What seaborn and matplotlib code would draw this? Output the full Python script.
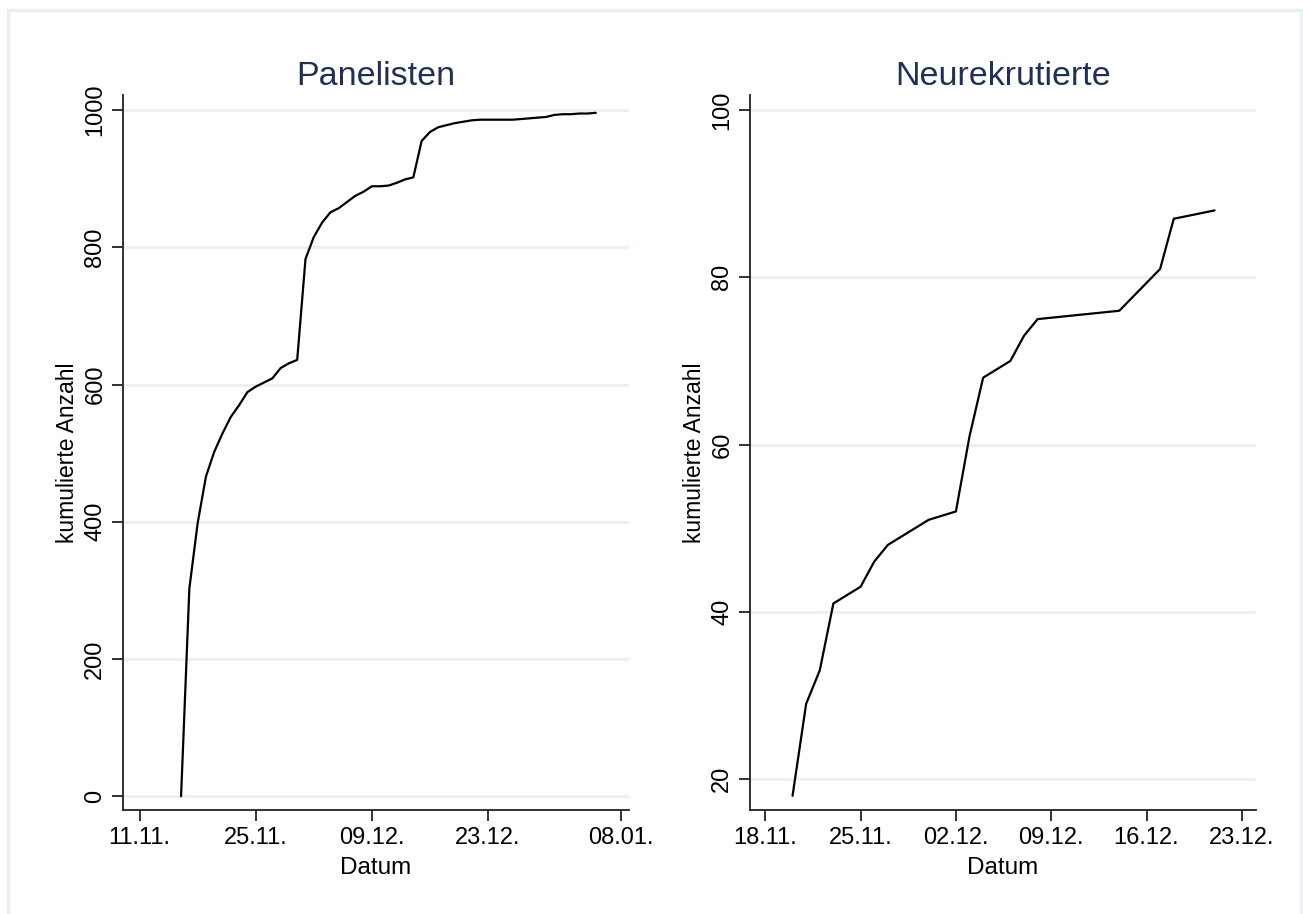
import matplotlib
matplotlib.use("Agg")
import matplotlib.pyplot as plt
import matplotlib.dates as mdates
import seaborn as sns
import pandas as pd
from matplotlib.patches import Rectangle

# Panelisten: cumulative count per day
panel_dates = [
    "2019-11-16", "2019-11-17", "2019-11-18", "2019-11-19", "2019-11-20",
    "2019-11-21", "2019-11-22", "2019-11-23", "2019-11-24", "2019-11-25",
    "2019-11-26", "2019-11-27", "2019-11-28", "2019-11-29", "2019-11-30",
    "2019-12-01", "2019-12-02", "2019-12-03", "2019-12-04", "2019-12-05",
    "2019-12-06", "2019-12-07", "2019-12-08", "2019-12-09", "2019-12-10",
    "2019-12-11", "2019-12-12", "2019-12-13", "2019-12-14", "2019-12-15",
    "2019-12-16", "2019-12-17", "2019-12-18", "2019-12-19", "2019-12-20",
    "2019-12-21", "2019-12-22", "2019-12-23", "2019-12-24", "2019-12-25",
    "2019-12-26", "2019-12-27", "2019-12-28", "2019-12-29", "2019-12-30",
    "2019-12-31", "2020-01-01", "2020-01-02", "2020-01-03", "2020-01-04",
    "2020-01-05",
]
panel_counts = [
    0, 303, 398, 466, 502,
    529, 553, 570, 589, 597,
    603, 609, 624, 631, 636,
    783, 815, 836, 851, 857,
    866, 875, 881, 889, 889,
    890, 894, 899, 902, 955,
    968, 975, 978, 981, 983,
    985, 986, 986, 986, 986,
    986, 987, 988, 989, 990,
    993, 994, 994, 995, 995,
    996,
]

# Neurekrutierte: cumulative count
recruit_dates = [
    "2019-11-20", "2019-11-21", "2019-11-22", "2019-11-23", "2019-11-25",
    "2019-11-26", "2019-11-27", "2019-11-30", "2019-12-02", "2019-12-03",
    "2019-12-04", "2019-12-06", "2019-12-07", "2019-12-08", "2019-12-14",
    "2019-12-17", "2019-12-18", "2019-12-21",
]
recruit_counts = [18, 29, 33, 41, 43, 46, 48, 51, 52, 61, 68, 70, 73, 75, 76, 81, 87, 88]

panel_xticks = ["2019-11-11", "2019-11-25", "2019-12-09", "2019-12-23", "2020-01-08"]
recruit_xticks = ["2019-11-18", "2019-11-25", "2019-12-02", "2019-12-09", "2019-12-16", "2019-12-23"]
panel_yticks = [0, 200, 400, 600, 800, 1000]
recruit_yticks = [20, 40, 60, 80, 100]

sns.set_style("white")
plt.rcParams["font.family"] = ["Liberation Sans", "DejaVu Sans"]
plt.rcParams["text.color"] = "black"
plt.rcParams["axes.labelcolor"] = "black"
plt.rcParams["xtick.color"] = "black"
plt.rcParams["ytick.color"] = "black"

grid_color = "#e9f0f2"
title_color = "#1f2f55"

fig = plt.figure(figsize=(13.03, 9.14), dpi=100)
fig.patches.append(Rectangle((8 / 1303, -0.05), 1293 / 1303, 1.05 - 10 / 914,
                             transform=fig.transFigure, fill=False,
                             edgecolor=grid_color, linewidth=2.5))

ax1 = fig.add_axes([123 / 1303, 1 - 810 / 914, 506 / 1303, 715 / 914])
ax2 = fig.add_axes([750 / 1303, 1 - 810 / 914, 506 / 1303, 715 / 914])

df1 = pd.DataFrame({"Datum": pd.to_datetime(panel_dates), "Anzahl": panel_counts})
df2 = pd.DataFrame({"Datum": pd.to_datetime(recruit_dates), "Anzahl": recruit_counts})

panels = [
    (ax1, df1, "Panelisten", panel_xticks, panel_yticks,
     ("2019-11-09", "2020-01-09"), (-20, 1022)),
    (ax2, df2, "Neurekrutierte", recruit_xticks, recruit_yticks,
     ("2019-11-16 21:00", "2019-12-24 01:00"), (16.3, 101.8)),
]

for ax, df, title, xt, yt, xlim, ylim in panels:
    for y in yt:
        ax.axhline(y, color=grid_color, linewidth=2, zorder=0)
    sns.lineplot(data=df, x="Datum", y="Anzahl", ax=ax, color="black", linewidth=1.6, zorder=3)
    ax.set_xlim(pd.to_datetime(xlim[0]), pd.to_datetime(xlim[1]))
    ax.set_ylim(*ylim)
    ax.set_xticks(pd.to_datetime(xt))
    ax.xaxis.set_major_formatter(mdates.DateFormatter("%d.%m."))
    ax.set_yticks(yt)
    ax.set_yticklabels([str(v) for v in yt], rotation=90, va="center")
    ax.tick_params(axis="both", direction="out", length=8, width=1.3, color="#222222",
                   labelsize=17, labelcolor="black", pad=4, bottom=True, left=True)
    ax.set_xlabel("Datum", fontsize=17.5, labelpad=6, color="black")
    ax.set_ylabel("kumulierte Anzahl", fontsize=16.5, labelpad=4, color="black")
    ax.set_title(title, fontsize=24.5, color=title_color, pad=7)
    for side in ["top", "right"]:
        ax.spines[side].set_visible(False)
    for side in ["left", "bottom"]:
        ax.spines[side].set_color("#222222")
        ax.spines[side].set_linewidth(1.3)
    ax.set_facecolor("white")

fig.savefig("out.png", dpi=100, facecolor="white")
